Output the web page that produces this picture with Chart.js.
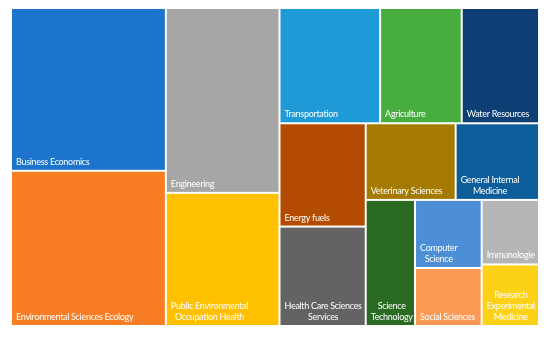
<!DOCTYPE html>
<html><head><meta charset="utf-8">
<script src="https://cdn.jsdelivr.net/npm/chart.js@4.4.1/dist/chart.umd.min.js"></script>
<style>html,body{margin:0;padding:0;background:#fff}#wrap{width:550px;height:339px;position:relative}</style>
</head><body><div id="wrap"><canvas id="c"></canvas></div>
<script>
const categories = ["Business Economics","Environmental Sciences Ecology","Engineering","Public Environmental Occupation Health","Transportation","Agriculture","Water Resources","Energy fuels","Health Care Sciences Services","Veterinary Sciences","General Internal Medicine","Science Technology","Computer Science","Social Sciences","Immunologie","Research Experimental Medicine"];
const values = [150,143,125,90,69,56,53,53,51,41,38,37,27,23,22,21];
const colors = ["#1d74cc","#f97d23","#a6a6a6","#ffc000","#1e9ad6","#48ad3f","#0d3f75","#b34b02","#636363","#a57a00","#0c5d99","#2a6a22","#4d8fd6","#fb9a55","#b5b5b5","#fcd116"];
const stripSizes = [2,2,3,2,2,1,2,2];
const stripDirections = ["column","column","row","column","row","column","column","column"];

function computeLayout(vals, W, H) {
  const total = vals.reduce((a,b)=>a+b,0);
  const k = W*H/total;
  let x=0,y=0,w=W,h=H,i=0;
  const rects=[];
  stripSizes.forEach((n,s)=>{
    const items = vals.slice(i,i+n);
    const area = items.reduce((a,b)=>a+b,0)*k;
    if (stripDirections[s]==="column") {
      const cw = area/h; let yy=y;
      items.forEach(v=>{const ch=v*k/cw; rects.push({x0:x,y0:yy,x1:x+cw,y1:yy+ch}); yy+=ch;});
      x+=cw; w-=cw;
    } else {
      const rh = area/w; let xx=x;
      items.forEach(v=>{const rw=v*k/rh; rects.push({x0:xx,y0:y,x1:xx+rw,y1:y+rh}); xx+=rw;});
      y+=rh; h-=rh;
    }
    i+=n;
  });
  return rects;
}

function wrap(ctx, text, maxW) {
  const words = text.split(" "); const lines=[]; let cur="";
  words.forEach(wd=>{
    const t = cur ? cur+" "+wd : wd;
    if (ctx.measureText(t).width > maxW && cur) { lines.push(cur); cur = wd; } else cur = t;
  });
  if (cur) lines.push(cur);
  return lines;
}

const treemapPlugin = {
  id: "treemapCells",
  afterDatasetsDraw(chart) {
    const ctx = chart.ctx, ca = chart.chartArea;
    const xs = chart.scales.x, ys = chart.scales.y;
    const W = ca.width/ca.height, H = 1;
    const ds = chart.data.datasets[0];
    const rects = computeLayout(ds.values, W, H);
    ctx.save();
    rects.forEach((r,i)=>{
      const px0 = xs.getPixelForValue(r.x0/W), px1 = xs.getPixelForValue(r.x1/W);
      const py0 = ys.getPixelForValue(r.y0/H), py1 = ys.getPixelForValue(r.y1/H);
      ctx.fillStyle = ds.backgroundColor[i];
      ctx.fillRect(px0+1, py0+1, px1-px0-2, py1-py0-2);
      ctx.font = "9px Lato";
      ctx.letterSpacing = "-0.3px";
      ctx.fillStyle = "#ffffff";
      ctx.textBaseline = "alphabetic";
      const lines = wrap(ctx, categories[i], px1-px0-8);
      const bw = Math.max(...lines.map(l=>ctx.measureText(l).width));
      ctx.textAlign = "center";
      const cx = px0 + 5 + bw/2;
      lines.forEach((l,j)=>{
        const by = py1 - 6 - (lines.length-1-j)*11;
        ctx.fillText(l, cx, by);
      });
    });
    ctx.restore();
  }
};

new Chart(document.getElementById("c"), {
  type: "scatter",
  data: { datasets: [{ label: "Treemap", data: [], values: values, backgroundColor: colors }] },
  options: {
    responsive: true, maintainAspectRatio: false, animation: false,
    layout: { padding: { left: 11, right: 11, top: 8, bottom: 13 } },
    plugins: { legend: { display: false }, tooltip: { enabled: false } },
    scales: {
      x: { type: "linear", min: 0, max: 1, display: false },
      y: { type: "linear", min: 0, max: 1, reverse: true, display: false }
    }
  },
  plugins: [treemapPlugin]
});
</script>
</body></html>
